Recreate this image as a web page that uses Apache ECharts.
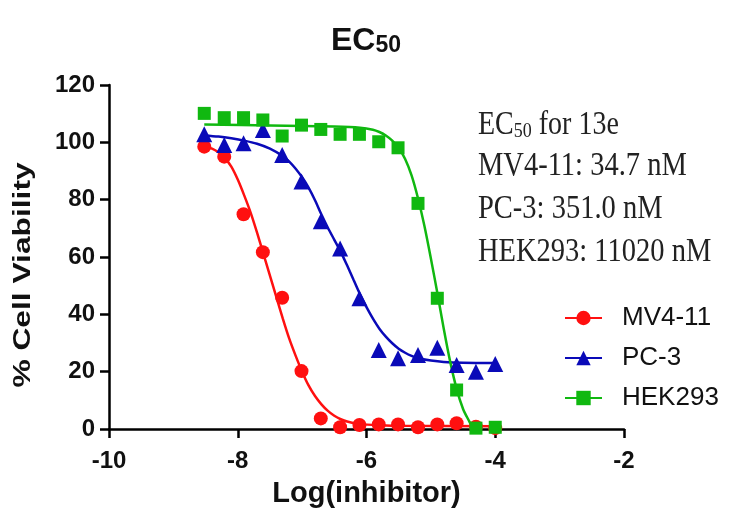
<!DOCTYPE html>
<html><head><meta charset="utf-8">
<script src="https://cdn.jsdelivr.net/npm/echarts@6/dist/echarts.min.js"></script>
<style>html,body{margin:0;padding:0;background:#fff}#c{width:732px;height:524px}</style>
</head><body><div id="c"></div>
<script>
// log[inhibitor] of the measured points (2-fold dilutions)
const logConc = [-8.52, -8.21, -7.91, -7.61, -7.31, -7.01, -6.71, -6.41, -6.11, -5.81, -5.51, -5.20, -4.90, -4.60, -4.30, -4.00];
const mv411 = [98.5, 95.0, 74.9, 61.7, 45.8, 20.2, 3.7, 0.6, 1.4, 1.6, 1.6, 0.6, 1.6, 2.0, 0.8, 0.3];
const pc3 = [102.8, 99.1, 99.7, 104.3, 95.6, 86.3, 72.5, 63.0, 45.6, 27.6, 24.7, 25.8, 28.3, 22.3, 20.0, 22.7];
const hek293 = [110.1, 108.6, 108.6, 107.8, 102.2, 106.0, 104.5, 102.8, 102.8, 100.2, 98.1, 78.7, 45.6, 13.6, 0.3, 0.6];

// fitted curves
const mv411FitX = [-8.52, -8.4, -8.3, -8.2, -8.1, -8.0, -7.9, -7.8, -7.7, -7.6, -7.5, -7.4, -7.3, -7.2, -7.1, -7.0, -6.9, -6.8, -6.7, -6.6, -6.5, -6.4, -6.3, -6.1, -5.8, -5.4, -4.0];
const mv411FitY = [98.6, 97.8, 96.5, 94.5, 91.5, 87, 81.5, 75.5, 68.5, 61, 53.5, 46, 38.5, 31.5, 25.5, 20, 15.2, 11.5, 8.6, 6.3, 4.6, 3.4, 2.6, 1.7, 1.3, 1.1, 1.0];
const pc3FitX = [-8.52, -8.3, -8.1, -7.9, -7.7, -7.5, -7.3, -7.2, -7.1, -7.0, -6.9, -6.8, -6.7, -6.6, -6.5, -6.4, -6.3, -6.2, -6.1, -6.0, -5.9, -5.8, -5.7, -5.6, -5.5, -5.4, -5.3, -5.2, -5.0, -4.8, -4.5, -4.0];
const pc3FitY = [102.4, 102.0, 101.4, 100.6, 99.5, 97.8, 95.2, 93.3, 90.8, 87.8, 84.2, 79.8, 74.8, 70.2, 66.0, 61.8, 57.0, 52.0, 47.0, 42.5, 38.5, 35.0, 32.2, 29.9, 28.0, 26.6, 25.5, 24.7, 23.9, 23.4, 23.1, 23.0];
const hekFitX = [-8.52, -7.5, -6.5, -6.1, -5.9, -5.8, -5.7, -5.6, -5.5, -5.4, -5.3, -5.2, -5.1, -5.0, -4.9, -4.8, -4.7, -4.6, -4.5, -4.4, -4.34];
const hekFitY = [106.2, 105.9, 105.5, 105.1, 104.4, 103.6, 102.4, 100.6, 98, 94.2, 88.5, 80.5, 70.8, 59.5, 47.5, 35, 23.5, 14, 7.0, 2.5, 0];

const seriesNames = ['MV4-11', 'PC-3', 'HEK293'];
const annotationLines = ['MV4-11: 34.7 nM', 'PC-3: 351.0 nM', 'HEK293: 11020 nM'];

const colors = ['#ff1010', '#0a0ab8', '#10b810'];
const symbols = ['circle', 'triangle', 'rect'];
const symSizes = [14, 16, 13];
const pts = [mv411, pc3, hek293];
const fitsX = [mv411FitX, pc3FitX, hekFitX];
const fitsY = [mv411FitY, pc3FitY, hekFitY];

const SANS = 'Liberation Sans';

const series = [];
seriesNames.forEach((n, i) => {
  series.push({
    name: n, type: 'line', smooth: 0.3,
    symbol: symbols[i], showSymbol: false, symbolSize: symSizes[i],
    data: fitsX[i].map((x, k) => [x, fitsY[i][k]]),
    lineStyle: { color: colors[i], width: 2.5 },
    itemStyle: { color: colors[i] },
    z: 2, silent: true
  });
});
seriesNames.forEach((n, i) => {
  series.push({
    name: n, type: 'scatter', symbol: symbols[i], symbolSize: symSizes[i],
    data: logConc.map((x, k) => [x, pts[i][k]]),
    itemStyle: { color: colors[i], opacity: 1 },
    z: 3, silent: true
  });
});

const axisCommon = {
  axisLine: { show: true, onZero: false, lineStyle: { color: '#000', width: 2.5 } },
  axisTick: { show: true, length: 9, lineStyle: { color: '#000', width: 2.5 } },
  splitLine: { show: false },
  axisLabel: { fontFamily: SANS, fontWeight: 'bold', fontSize: 24, color: '#111', margin: 14 }
};

const chart = echarts.init(document.getElementById('c'), null, { renderer: 'canvas' });
chart.setOption({
  animation: false,
  backgroundColor: '#fff',
  title: {
    text: '{a|EC}{b|50}', left: 'center', top: 16,
    textStyle: { rich: {
      a: { fontFamily: SANS, fontWeight: 'bold', fontSize: 32, color: '#111', lineHeight: 36, verticalAlign: 'bottom' },
      b: { fontFamily: SANS, fontWeight: 'bold', fontSize: 23, color: '#111', lineHeight: 14, verticalAlign: 'bottom' }
    } }
  },
  grid: { left: 109, right: 108, top: 85, bottom: 95, containLabel: false },
  xAxis: Object.assign({}, axisCommon, {
    type: 'value', min: -10, max: -2, interval: 2,
    axisLabel: Object.assign({}, axisCommon.axisLabel, { margin: 20 }),
    name: 'Log(inhibitor)', nameLocation: 'middle', nameGap: 50,
    nameTextStyle: { fontFamily: SANS, fontWeight: 'bold', fontSize: 29, color: '#111' }
  }),
  yAxis: Object.assign({}, axisCommon, {
    type: 'value', min: 0, max: 120, interval: 20
  }),
  legend: {
    data: seriesNames, orient: 'vertical', left: 559, top: 299,
    itemWidth: 37, itemHeight: 18, itemGap: 12,
    textStyle: { fontFamily: SANS, fontSize: 26, color: '#111', lineHeight: 28, padding: [0, 0, 0, 15] }
  },
  graphic: [
    { type: 'text', x: 24, y: 275, rotation: Math.PI / 2, scaleX: 1.38,
      style: { text: '% Cell Viability', font: 'bold 23px "Liberation Sans"', fill: '#111', align: 'center', verticalAlign: 'middle' } },
    { type: 'text', x: 478, y: 124, scaleY: 1.2,
      style: { text: '{a|EC}{s|50}{a| for 13e}', fill: '#222', align: 'left', verticalAlign: 'middle',
        rich: { a: { font: '28px "Liberation Serif"', fill: '#222', lineHeight: 30, verticalAlign: 'bottom' },
                s: { font: '18px "Liberation Serif"', fill: '#222', lineHeight: 14, verticalAlign: 'bottom' } } } },
    ...annotationLines.map((t, i) => ({ type: 'text', x: 478, y: [166, 209, 252][i], scaleY: 1.2,
      style: { text: t, font: '28.5px "Liberation Serif"', fill: '#222', align: 'left', verticalAlign: 'middle' } }))
  ],
  series: series
});
</script></body></html>
